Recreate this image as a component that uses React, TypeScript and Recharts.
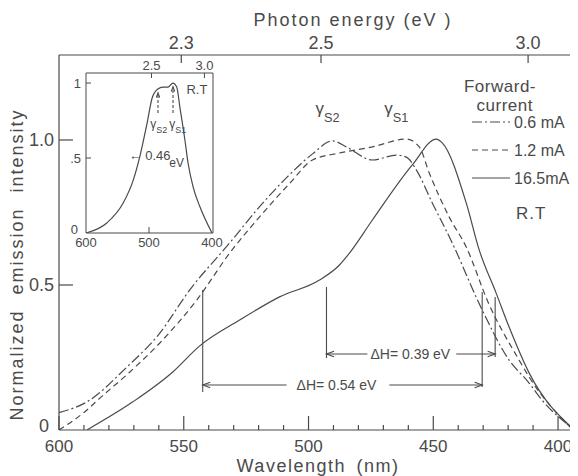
import React from "react"
import { LineChart, Line, XAxis, YAxis, ReferenceLine, ReferenceDot } from "recharts"

// wavelength (nm) / normalized intensity
const wl06 = [600, 588.8, 572.8, 560, 547.6, 531.6, 519.6, 508.8, 498.4, 490.4, 484.8, 474.4, 464.8, 460.8, 456.8, 450.4, 442.4, 430.8, 419.6, 411.6, 406.4, 394]
const int06 = [0.06, 0.097, 0.217, 0.33, 0.483, 0.645, 0.77, 0.87, 0.952, 0.997, 0.976, 0.931, 0.948, 0.941, 0.897, 0.783, 0.645, 0.421, 0.241, 0.162, 0.103, 0.005]

const wl12 = [600, 588.8, 583.6, 571.6, 559.6, 544.8, 531.6, 519.6, 507.6, 498.4, 487.6, 474.4, 460.8, 455.6, 451.6, 443.6, 436.8, 428, 415.6, 411.6, 394]
const int12 = [0.0, 0.069, 0.11, 0.2, 0.3, 0.448, 0.61, 0.735, 0.85, 0.931, 0.955, 0.976, 1.003, 0.976, 0.886, 0.734, 0.631, 0.44, 0.241, 0.183, 0.0]

const wl165 = [588.8, 570.4, 554.4, 543.6, 527.6, 511.6, 495.6, 487.6, 483.6, 474.4, 458.4, 448.8, 446.4, 436.8, 431.6, 424.8, 419.6, 411.6, 394]
const int165 = [0, 0.097, 0.2, 0.29, 0.379, 0.459, 0.517, 0.569, 0.61, 0.724, 0.914, 1.003, 0.99, 0.783, 0.621, 0.472, 0.355, 0.197, 0.005]

// inset spectrum
const wlInset = [600, 567, 541, 525, 514, 503, 495, 486, 478, 470, 462, 456, 451, 443, 438, 430, 419, 400]
const intInset = [0, 0.067, 0.2, 0.353, 0.52, 0.733, 0.9, 0.96, 0.973, 0.973, 1.0, 0.973, 0.84, 0.62, 0.467, 0.307, 0.173, 0]

const wavelengthTicks = [600, 590, 580, 570, 560, 550, 540, 530, 520, 510, 500, 490, 480, 470, 460, 450, 440, 430, 420, 410, 400]
const intensityTicks = [0, 0.5, 1.0]
const intensityLabels = ["0", "0.5", "1.0"]
const energyTicks = [551, 495, 412]
const energyLabels = ["2.3", "2.5", "3.0"]

const insetWlTicks = [600, 500, 400]
const insetIntTicks = [0, 0.5, 1]
const insetIntLabels = ["0", ".5", "1"]
const insetEnergyTicks = [496, 412]
const insetEnergyLabels = ["2.5", "3.0"]

const seriesNames = ["0.6 mA", "1.2 mA", "16.5mA"]

const INK = "#4a4a4a"
const FONT = "'Liberation Sans', Arial, sans-serif"
const DASHDOT = "10 3 2 3"
const DASH = "6 4"

const toPoints = (w: number[], v: number[]) => w.map((x, i) => ({ w: x, v: v[i] }))

const BottomTick = ({ x, y, payload }: any) => {
  const major = payload.value % 50 === 0
  return (
    <g>
      <line x1={x} x2={x} y1={y} y2={y - (major ? 14 : 5)} stroke={INK} strokeWidth={1.2} />
      {major && (
        <text x={x} y={y + 22} textAnchor="middle" fontSize={17} fill={INK} fontFamily={FONT}>
          {payload.value}
        </text>
      )}
    </g>
  )
}

const TopTick = ({ x, y, payload }: any) => (
  <g>
    <line x1={x} x2={x} y1={y} y2={y + 8} stroke={INK} strokeWidth={1.2} />
    <text x={x} y={y - 6} textAnchor="middle" fontSize={18} fill={INK} fontFamily={FONT}>
      {energyLabels[energyTicks.indexOf(payload.value)]}
    </text>
  </g>
)

const LeftTick = ({ x, y, payload }: any) => (
  <g>
    {payload.value > 0 && <line x1={x} x2={x + 14} y1={y} y2={y} stroke={INK} strokeWidth={1.2} />}
    <text
      x={x - (payload.value > 0 ? 5 : 10)}
      y={payload.value > 0 ? y : y - 4}
      dy="0.35em"
      textAnchor="end"
      fontSize={18}
      fill={INK}
      fontFamily={FONT}
    >
      {intensityLabels[intensityTicks.indexOf(payload.value)]}
    </text>
  </g>
)

const InsetBottomTick = ({ x, y, payload }: any) => (
  <g>
    {payload.value === 500 && <line x1={x} x2={x} y1={y} y2={y - 6} stroke={INK} />}
    <text x={x} y={y + 14} textAnchor="middle" fontSize={13} fill={INK} fontFamily={FONT}>
      {payload.value}
    </text>
  </g>
)

const InsetTopTick = ({ x, y, payload }: any) => (
  <g>
    <line x1={x} x2={x} y1={y} y2={y + 5} stroke={INK} />
    <text x={x} y={y - 3} textAnchor="middle" fontSize={13} fill={INK} fontFamily={FONT}>
      {insetEnergyLabels[insetEnergyTicks.indexOf(payload.value)]}
    </text>
  </g>
)

const InsetLeftTick = ({ x, y, payload }: any) => (
  <g>
    {payload.value > 0 && <line x1={x} x2={x + 5} y1={y} y2={y} stroke={INK} />}
    <text
      x={x - (payload.value > 0 ? 5 : 8)}
      y={payload.value > 0 ? y : y - 4}
      dy="0.35em"
      textAnchor="end"
      fontSize={13}
      fill={INK}
      fontFamily={FONT}
    >
      {insetIntLabels[insetIntTicks.indexOf(payload.value)]}
    </text>
  </g>
)

const arrow = (dash?: string, size = 8) => (p: any) => {
  const { x1, y1, x2, y2 } = p
  const a = Math.atan2(y2 - y1, x2 - x1)
  const h1 = [x2 - size * Math.cos(a - 0.35), y2 - size * Math.sin(a - 0.35)]
  const h2 = [x2 - size * Math.cos(a + 0.35), y2 - size * Math.sin(a + 0.35)]
  return (
    <g>
      <line x1={x1} y1={y1} x2={x2} y2={y2} stroke={INK} strokeWidth={1.1} strokeDasharray={dash} />
      <polyline points={`${h1[0]},${h1[1]} ${x2},${y2} ${h2[0]},${h2[1]}`} fill="none" stroke={INK} strokeWidth={1.1} />
    </g>
  )
}

const label = (text: string, size: number, anchor = "middle") => (p: any) => (
  <text x={p.cx} y={p.cy} dy="0.35em" textAnchor={anchor} fontSize={size} fill={INK} fontFamily={FONT}>
    {text}
  </text>
)

const gamma = (sub: string, size: number, anchor = "middle") => (p: any) => (
  <text x={p.cx} y={p.cy} textAnchor={anchor} fontSize={size} fill={INK} fontFamily={FONT}>
    γ
    <tspan dy={size * 0.45} fontSize={size * 0.75}>
      {sub}
    </tspan>
  </text>
)

const LegendBox = () => {
  const dashes = [DASHDOT, DASH, undefined]
  return (
    <svg width={114} height={150} style={{ position: "absolute", left: 456, top: 66 }}>
      <text x={72} y={18} textAnchor="end" fontSize={17} fill={INK} fontFamily={FONT} letterSpacing={0.5}>
        Forward-
      </text>
      <text x={69} y={37} textAnchor="end" fontSize={17} fill={INK} fontFamily={FONT} letterSpacing={0.5}>
        current
      </text>
      {seriesNames.map((n, i) => (
        <g key={n}>
          <line x1={8} x2={46} y1={48 + i * 28} y2={48 + i * 28} stroke={INK} strokeWidth={1.2} strokeDasharray={dashes[i]} />
          <text x={50} y={54 + i * 28} fontSize={16} fill={INK} fontFamily={FONT}>
            {n}
          </text>
        </g>
      ))}
      <text x={52} y={145} fontSize={17} fill={INK} fontFamily={FONT} letterSpacing={1}>
        R.T
      </text>
    </svg>
  )
}

const Inset = () => (
  <div style={{ position: "absolute", left: 52, top: 45 }}>
    <LineChart width={170} height={200} margin={{ top: 19, right: 16, bottom: 19, left: 25 }}>
      <XAxis
        dataKey="w"
        type="number"
        domain={[398.4, 600]}
        reversed
        ticks={insetWlTicks}
        interval={0}
        height={1}
        tickSize={0}
        tickMargin={0}
        tick={InsetBottomTick}
        stroke={INK}
        allowDataOverflow
      />
      <XAxis
        xAxisId="top"
        orientation="top"
        dataKey="w"
        type="number"
        domain={[398.4, 600]}
        reversed
        ticks={insetEnergyTicks}
        interval={0}
        height={1}
        tickSize={0}
        tickMargin={0}
        tick={InsetTopTick}
        stroke={INK}
        allowDataOverflow
      />
      <YAxis
        type="number"
        domain={[0, 1.067]}
        ticks={insetIntTicks}
        interval={0}
        width={1}
        tickSize={0}
        tickMargin={0}
        tick={InsetLeftTick}
        stroke={INK}
        allowDataOverflow
      />
      <YAxis yAxisId="r" orientation="right" type="number" domain={[0, 1.067]} width={1} tick={false} tickLine={false} stroke={INK} />
      <Line
        data={toPoints(wlInset, intInset)}
        dataKey="v"
        type="monotone"
        dot={false}
        stroke={INK}
        strokeWidth={1.2}
        isAnimationActive={false}
      />
      <ReferenceLine segment={[{ x: 485.7, y: 0.8 }, { x: 485.7, y: 0.935 }]} shape={arrow("3 2", 5)} />
      <ReferenceLine segment={[{ x: 461.9, y: 0.8 }, { x: 461.9, y: 0.975 }]} shape={arrow("3 2", 5)} />
      <ReferenceDot x={498} y={0.7} r={0} shape={gamma("S2", 12, "start")} />
      <ReferenceDot x={468} y={0.7} r={0} shape={gamma("S1", 12, "start")} />
      <ReferenceDot x={424} y={0.96} r={0} shape={label("R.T", 13)} />
      <ReferenceDot x={499} y={0.52} r={0} shape={label("← 0.46", 13)} />
      <ReferenceDot x={456} y={0.47} r={0} shape={label("eV", 12)} />
    </LineChart>
  </div>
)

export default function App() {
  return (
    <div style={{ position: "relative", width: 570, height: 468, background: "#fff" }}>
      <LineChart width={570} height={468} margin={{ top: 46, right: 0, bottom: 45, left: 50 }}>
        <XAxis
          dataKey="w"
          type="number"
          domain={[392.4, 600]}
          reversed
          ticks={wavelengthTicks}
          interval={0}
          height={1}
          tickSize={0}
          tickMargin={0}
          tick={BottomTick}
          stroke={INK}
          strokeWidth={1.2}
          allowDataOverflow
          label={{
            content: ({ viewBox }: any) => (
              <text
                x={viewBox.x + viewBox.width / 2}
                y={viewBox.y + 42}
                textAnchor="middle"
                fontSize={18}
                fill={INK}
                fontFamily={FONT}
                letterSpacing={1.5}
                wordSpacing={4}
              >
                Wavelength (nm)
              </text>
            ),
          }}
        />
        <XAxis
          xAxisId="top"
          orientation="top"
          dataKey="w"
          type="number"
          domain={[392.4, 600]}
          reversed
          ticks={energyTicks}
          interval={0}
          height={1}
          tickSize={0}
          tickMargin={0}
          tick={TopTick}
          stroke={INK}
          strokeWidth={1.2}
          allowDataOverflow
          label={{
            content: ({ viewBox }: any) => (
              <text
                x={viewBox.x + viewBox.width / 2 + 35}
                y={viewBox.y - 28}
                textAnchor="middle"
                fontSize={18}
                fill={INK}
                fontFamily={FONT}
                letterSpacing={2}
              >
                Photon energy (eV )
              </text>
            ),
          }}
        />
        <YAxis
          type="number"
          domain={[0, 1.293]}
          ticks={intensityTicks}
          interval={0}
          width={1}
          tickSize={0}
          tickMargin={0}
          tick={LeftTick}
          stroke={INK}
          strokeWidth={1.2}
          allowDataOverflow
          label={{
            content: ({ viewBox }: any) => {
              const cx = viewBox.x - 41
              const cy = viewBox.y + viewBox.height / 2 + 22
              return (
                <text
                  x={cx}
                  y={cy}
                  dy="0.35em"
                  transform={`rotate(-90 ${cx} ${cy})`}
                  textAnchor="middle"
                  fontSize={18}
                  fill={INK}
                  fontFamily={FONT}
                  letterSpacing={2}
                  wordSpacing={8}
                >
                  Normalized emission intensity
                </text>
              )
            },
          }}
        />
        <YAxis yAxisId="r" orientation="right" type="number" domain={[0, 1.293]} width={1} tick={false} tickLine={false} stroke={INK} strokeWidth={1.2} />

        <Line
          name={seriesNames[0]}
          data={toPoints(wl06, int06)}
          dataKey="v"
          type="monotone"
          dot={false}
          stroke={INK}
          strokeWidth={1.2}
          strokeDasharray={DASHDOT}
          isAnimationActive={false}
        />
        <Line
          name={seriesNames[1]}
          data={toPoints(wl12, int12)}
          dataKey="v"
          type="monotone"
          dot={false}
          stroke={INK}
          strokeWidth={1.2}
          strokeDasharray={DASH}
          isAnimationActive={false}
        />
        <Line
          name={seriesNames[2]}
          data={toPoints(wl165, int165)}
          dataKey="v"
          type="monotone"
          dot={false}
          stroke={INK}
          strokeWidth={1.2}
          isAnimationActive={false}
        />

        {/* half-width markers */}
        <ReferenceLine segment={[{ x: 542.4, y: 0.131 }, { x: 542.4, y: 0.483 }]} stroke={INK} strokeWidth={1.1} />
        <ReferenceLine segment={[{ x: 430.4, y: 0.148 }, { x: 430.4, y: 0.476 }]} stroke={INK} strokeWidth={1.1} />
        <ReferenceLine segment={[{ x: 492.8, y: 0.248 }, { x: 492.8, y: 0.493 }]} stroke={INK} strokeWidth={1.1} />
        <ReferenceLine segment={[{ x: 425.2, y: 0.252 }, { x: 425.2, y: 0.459 }]} stroke={INK} strokeWidth={1.1} />
        <ReferenceLine segment={[{ x: 508.8, y: 0.155 }, { x: 542.4, y: 0.155 }]} shape={arrow()} />
        <ReferenceLine segment={[{ x: 467.6, y: 0.155 }, { x: 430.4, y: 0.155 }]} shape={arrow()} />
        <ReferenceLine segment={[{ x: 476.4, y: 0.262 }, { x: 492.8, y: 0.262 }]} shape={arrow()} />
        <ReferenceLine segment={[{ x: 440.8, y: 0.262 }, { x: 425.2, y: 0.262 }]} shape={arrow()} />
        <ReferenceDot x={488.8} y={0.155} r={0} shape={label("ΔH= 0.54 eV", 14)} />
        <ReferenceDot x={459.2} y={0.262} r={0} shape={label("ΔH= 0.39 eV", 14)} />
        <ReferenceDot x={492.4} y={1.09} r={0} shape={gamma("S2", 17)} />
        <ReferenceDot x={464.8} y={1.09} r={0} shape={gamma("S1", 17)} />
      </LineChart>
      <Inset />
      <LegendBox />
    </div>
  )
}
